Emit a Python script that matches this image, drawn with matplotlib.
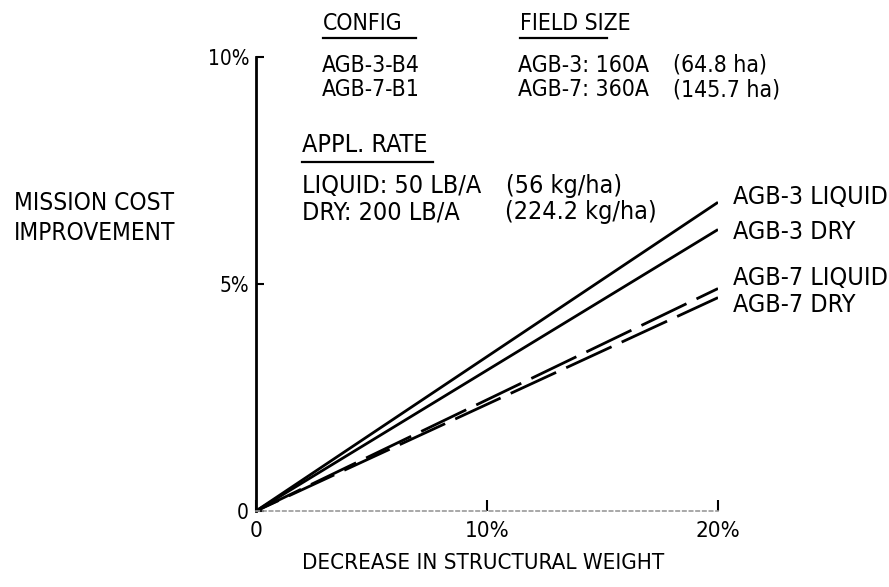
import matplotlib
matplotlib.use("Agg")
import matplotlib.pyplot as plt
from matplotlib.lines import Line2D

plt.rcParams['font.family'] = ['DejaVu Sans']
plt.rcParams['font.stretch'] = 'condensed'

# decrease in structural weight (%) vs mission cost improvement (%)
weight_pct = [0, 20]
agb3_liquid = [0, 6.8]
agb3_dry = [0, 6.2]
agb7_liquid = [0, 4.9]
agb7_dry = [0, 4.7]

series_names = ['AGB-3 LIQUID', 'AGB-3 DRY', 'AGB-7 LIQUID', 'AGB-7 DRY']

W, H = 889, 587
fig = plt.figure(figsize=(W / 100, H / 100), dpi=100)
ax = fig.add_axes([256 / W, 1 - 511 / H, (718 - 256) / W, (511 - 57) / H])

ax.plot(weight_pct, agb3_liquid, color='black', lw=2.0, solid_capstyle='butt')
ax.plot(weight_pct, agb3_dry, color='black', lw=2.0, solid_capstyle='butt')
ax.plot(weight_pct, agb7_liquid, color='black', lw=2.0, linestyle=(0, (18, 4)))
ax.plot(weight_pct, agb7_dry, color='black', lw=2.0, linestyle=(9, (18, 4)))

ax.set_xlim(0, 20)
ax.set_ylim(0, 10)
for s in ['top', 'right']:
    ax.spines[s].set_visible(False)
ax.spines['left'].set_linewidth(2.0)
ax.spines['bottom'].set_linewidth(1.2)
ax.spines['bottom'].set_color('#9a9a9a')
ax.spines['bottom'].set_linestyle((0, (2, 2)))

ax.set_yticks([0, 5, 10], ['0', '5%', '10%'])
ax.set_xticks([0, 10, 20], ['0', '10%', '20%'])
ax.tick_params(axis='y', direction='in', length=6, width=1.5, labelsize=15, pad=5)
ax.tick_params(axis='x', direction='in', length=8, width=1.5, labelsize=16, pad=7)

def ftext(x, y, s, fs=18, **kw):
    fig.text(x / W, 1 - y / H, s, fontsize=fs, va='center', **kw)

def uline(x0, x1, y):
    fig.add_artist(Line2D([x0 / W, x1 / W], [1 - y / H, 1 - y / H],
                          color='black', lw=1.6, transform=fig.transFigure))

# y axis title
ftext(14, 203, 'MISSION COST', fs=17.5)
ftext(14, 233, 'IMPROVEMENT', fs=17.5)

# x axis title
ftext(483, 563, 'DECREASE IN STRUCTURAL WEIGHT', fs=16, ha='center')

# header block
hs = 16.5
ftext(323, 24, 'CONFIG', fs=hs)
uline(323, 416, 38)
ftext(322, 65, 'AGB-3-B4', fs=hs)
ftext(322, 90, 'AGB-7-B1', fs=hs)

ftext(520, 24, 'FIELD SIZE', fs=hs)
uline(520, 607, 38)
ftext(518, 65, 'AGB-3: 160A', fs=hs)
ftext(673, 65, '(64.8 ha)', fs=hs)
ftext(518, 90, 'AGB-7: 360A', fs=hs)
ftext(673, 90, '(145.7 ha)', fs=hs)

ftext(302, 145, 'APPL. RATE')
uline(302, 433, 162)
ftext(302, 186, 'LIQUID: 50 LB/A')
ftext(506, 186, '(56 kg/ha)')
ftext(302, 212, 'DRY: 200 LB/A')
ftext(505, 212, '(224.2 kg/ha)')

# series labels at line ends
label_y = [197, 232, 278, 305]
for name, y in zip(series_names, label_y):
    ftext(733, y, name)

fig.savefig('out.png', dpi=100)
